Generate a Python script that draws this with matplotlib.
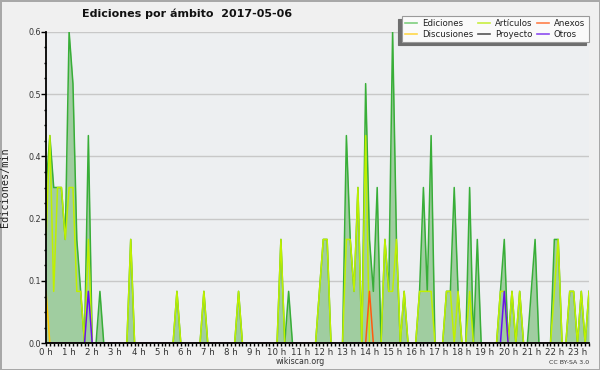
import numpy as np
import matplotlib
matplotlib.use('Agg')
from matplotlib import pyplot as plt
from matplotlib.ticker import FixedLocator, FormatStrFormatter
from matplotlib.lines import Line2D

# edits per minute in 10-minute bins, 2017-05-06 (bins not listed are 0)
n_bins = 142  # 00:00 .. 23:30

ediciones = {
    '00:00': 0.3, '00:10': 0.4, '00:20': 0.3, '00:30': 0.3, '00:40': 0.3,
    '00:50': 0.2, '01:00': 0.6, '01:10': 0.5, '01:20': 0.2, '01:30': 0.1,
    '01:50': 0.4, '02:20': 0.1, '03:40': 0.2, '05:40': 0.1, '06:50': 0.1,
    '08:20': 0.1, '10:10': 0.2, '10:30': 0.1, '11:50': 0.1, '12:00': 0.2,
    '12:10': 0.2, '13:00': 0.4, '13:10': 0.2, '13:20': 0.1, '13:30': 0.3,
    '13:50': 0.5, '14:00': 0.2, '14:10': 0.1, '14:20': 0.3, '14:40': 0.2,
    '14:50': 0.1, '15:00': 0.6, '15:10': 0.2, '15:30': 0.1, '16:10': 0.1,
    '16:20': 0.3, '16:30': 0.1, '16:40': 0.4, '17:20': 0.1, '17:30': 0.1,
    '17:40': 0.3, '17:50': 0.1, '18:20': 0.3, '18:40': 0.2, '19:40': 0.1,
    '19:50': 0.2, '20:10': 0.1, '20:30': 0.1, '21:00': 0.1, '21:10': 0.2,
    '22:00': 0.2, '22:10': 0.2, '22:40': 0.1, '22:50': 0.1, '23:10': 0.1,
    '23:30': 0.1,
}
articulos = {
    '00:00': 0.2, '00:10': 0.4, '00:20': 0.1, '00:30': 0.3, '00:40': 0.3,
    '00:50': 0.2, '01:00': 0.3, '01:10': 0.3, '01:20': 0.1, '01:30': 0.1,
    '01:50': 0.2, '03:40': 0.2, '05:40': 0.1, '06:50': 0.1, '08:20': 0.1,
    '10:10': 0.2, '11:50': 0.1, '12:00': 0.2, '12:10': 0.2, '13:00': 0.2,
    '13:10': 0.2, '13:20': 0.1, '13:30': 0.3, '13:50': 0.4, '14:40': 0.2,
    '14:50': 0.1, '15:00': 0.1, '15:10': 0.2, '15:30': 0.1, '16:10': 0.1,
    '16:20': 0.1, '16:30': 0.1, '16:40': 0.1, '17:20': 0.1, '17:30': 0.1,
    '17:50': 0.1, '18:20': 0.1, '19:40': 0.1, '19:50': 0.1, '20:10': 0.1,
    '20:30': 0.1, '22:00': 0.1, '22:10': 0.2, '22:40': 0.1, '22:50': 0.1,
    '23:10': 0.1, '23:30': 0.1,
}
discusiones = {'00:00': 0.1}
anexos = {'14:00': 0.1}
proyecto = {}
otros = {'01:50': 0.1, '19:50': 0.1}

colores = {
    'Ediciones': '#7fcf7f', 'Discusiones': '#ffd84a', 'Artículos': '#c8ee40',
    'Proyecto': '#555555', 'Anexos': '#ff7f4a', 'Otros': '#8c4cf0',
}


def serie(d):
    y = np.zeros(n_bins)
    for hm, v in d.items():
        h, m = hm.split(':')
        y[(int(h) * 60 + int(m)) // 10] = v
    return y


t = np.arange(n_bins) / 6.0

fig = plt.figure(figsize=(6, 3.7), dpi=100, facecolor='#f0f0f0',
                 edgecolor='#a8a8a8', linewidth=2)
ax = fig.add_axes([46 / 600, 1 - 343.3 / 370, 543 / 600, 311.6 / 370])
ax.set_facecolor('#edeff1')

tot = serie(ediciones)
ax.fill_between(t, 0, tot, color='#a0cda0', lw=0, zorder=2)
ax.plot(t, tot, color='#38ae38', lw=1.1, zorder=3)
ax.plot(t, serie(articulos), color='#bff000', lw=1.1, zorder=4)
ax.plot(t, serie(proyecto), color='#555555', lw=1.1, zorder=4)
ax.plot(t, serie(discusiones), color='#ffc800', lw=1.1, zorder=4)
ax.plot(t, serie(anexos), color='#ff5a10', lw=1.1, zorder=4)
ax.plot(t, serie(otros), color='#6a10f0', lw=1.1, zorder=4)

ax.set_xlim(0, 23.5)
ax.set_ylim(0, 0.6)

ax.yaxis.set_major_locator(FixedLocator([0, 0.12, 0.24, 0.36, 0.48, 0.6]))
ax.yaxis.set_minor_locator(FixedLocator(np.arange(0, 0.61, 0.03)))
ax.yaxis.set_major_formatter(FormatStrFormatter('%.1f'))
ax.xaxis.set_major_locator(FixedLocator(range(24)))
ax.xaxis.set_minor_locator(FixedLocator(np.arange(0, 23.51, 1 / 6)))
ax.set_xticklabels([f'{h} h' for h in range(24)])

ax.grid(axis='y', which='major', color='#c8c8c8', lw=1, zorder=1)
ax.set_axisbelow(True)

for s in ['top', 'right']:
    ax.spines[s].set_visible(False)
for s in ['left', 'bottom']:
    ax.spines[s].set_linewidth(1.3)
    ax.spines[s].set_zorder(6)

ax.tick_params(axis='y', which='major', length=3.3, width=1, pad=0.5,
               labelsize=5.8, labelcolor='#333333')
ax.tick_params(axis='y', which='minor', length=1.7, width=1)
ax.tick_params(axis='x', which='both', length=2.2, width=1, pad=1,
               labelsize=6.2, labelcolor='#333333')

ax.set_ylabel('Ediciones/min', family='DejaVu Sans Mono', fontsize=7.3,
              color='#222222')
ax.yaxis.set_label_coords(-0.066, 0.5)

fig.text(0.312, 1 - 14 / 370, 'Ediciones por ámbito  2017-05-06',
         ha='center', va='center', fontsize=8.0, fontweight='bold',
         color='#111111')
fig.text(0.5, 1 - 361.5 / 370, 'wikiscan.org', ha='center', va='center',
         fontsize=5.7, color='#333333')
fig.text(589 / 600, 1 - 362.5 / 370, 'CC BY-SA 3.0', ha='right',
         va='center', fontsize=4.5, color='#333333')

orden = ['Ediciones', 'Discusiones', 'Artículos', 'Proyecto', 'Anexos', 'Otros']
handles = [Line2D([], [], color=colores[k], lw=1.2) for k in orden]
leg = fig.legend(handles, orden, ncol=3, loc='upper right',
                 bbox_to_anchor=(593 / 600, 1 - 11.5 / 370),
                 fontsize=6.2, handlelength=1.4, handletextpad=0.6,
                 columnspacing=0.5, labelspacing=0.2, borderpad=0.4,
                 fancybox=False, framealpha=1,
                 shadow={'ox': -2.2, 'oy': -2.2, 'facecolor': '#6e6e6e',
                         'edgecolor': '#6e6e6e', 'alpha': 1})
leg.get_frame().set_facecolor('#fafafa')
leg.get_frame().set_edgecolor('#9a9a9a')
leg.get_frame().set_linewidth(0.8)
for txt in leg.get_texts():
    txt.set_color('#222222')

fig.savefig('out.png', dpi=100, facecolor=fig.get_facecolor(),
            edgecolor=fig.get_edgecolor())
